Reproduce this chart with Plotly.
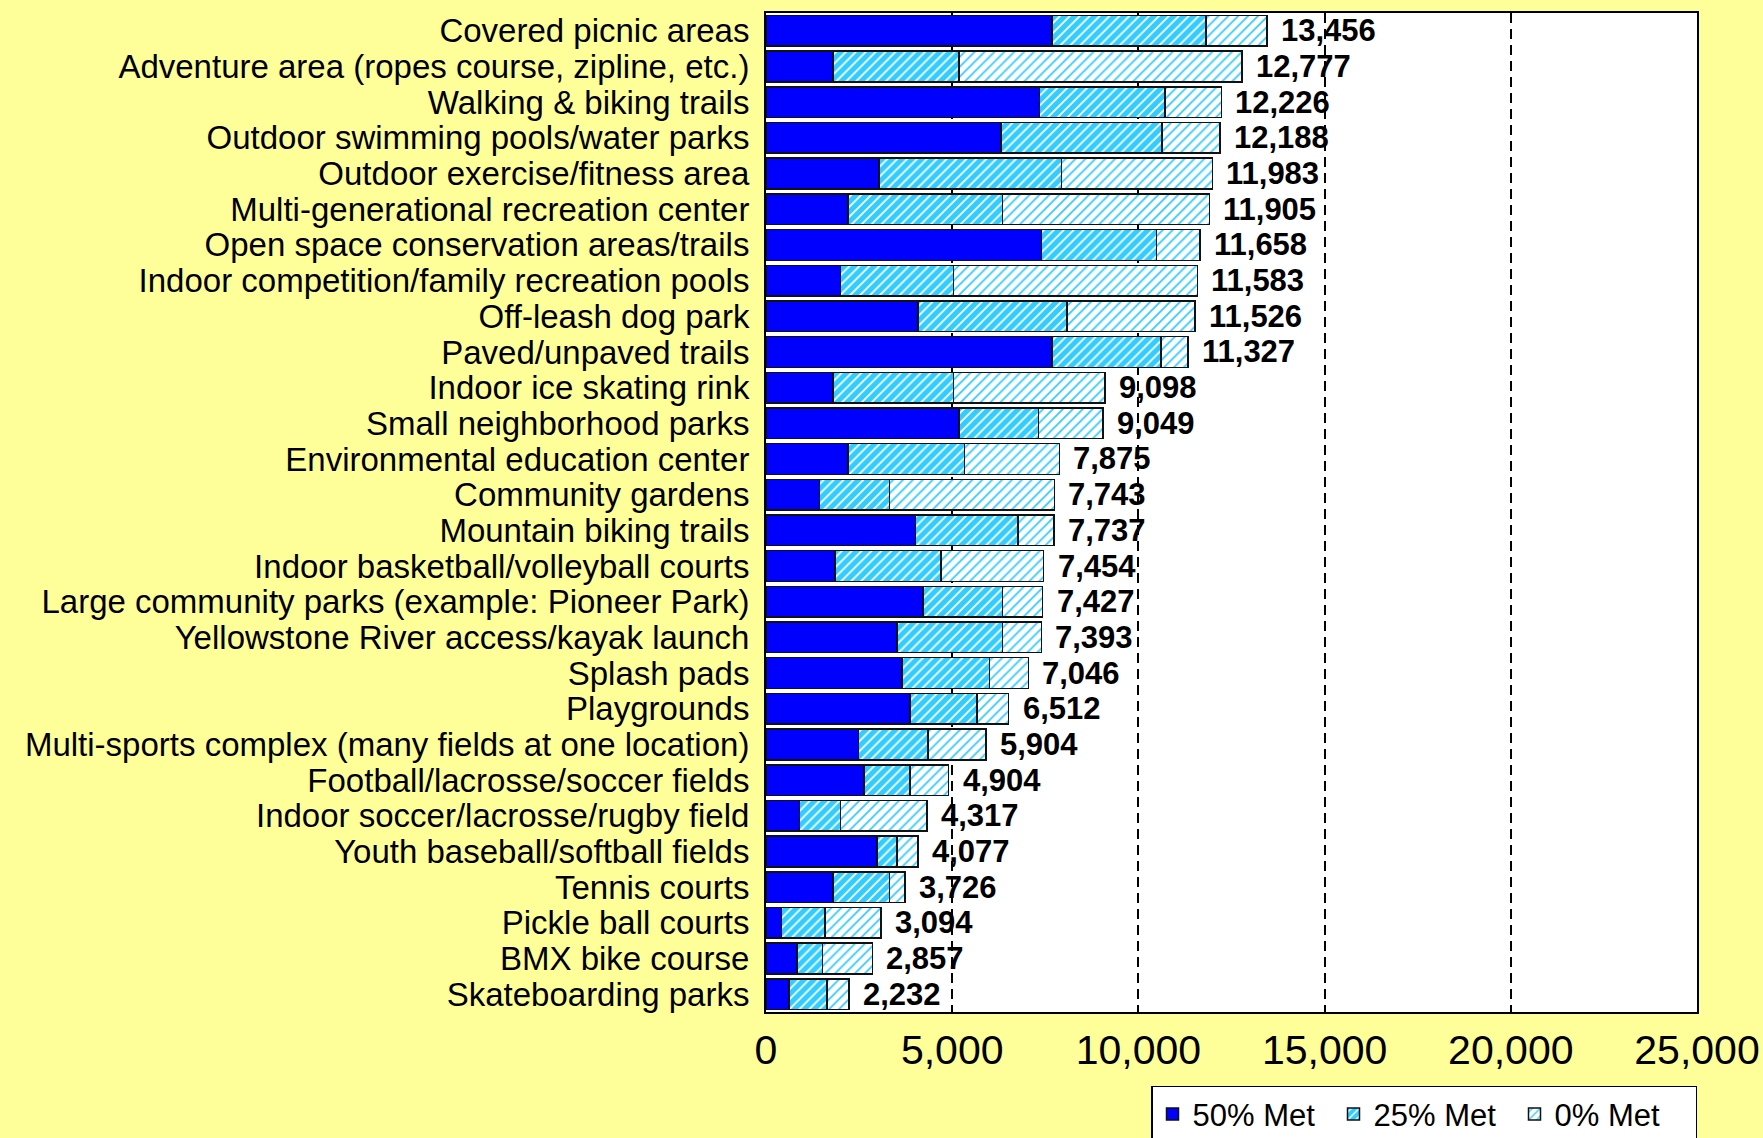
import plotly.graph_objects as go

categories = [
    "Covered picnic areas",
    "Adventure area (ropes course, zipline, etc.)",
    "Walking & biking trails",
    "Outdoor swimming pools/water parks",
    "Outdoor exercise/fitness area",
    "Multi-generational recreation center",
    "Open space conservation areas/trails",
    "Indoor competition/family recreation pools",
    "Off-leash dog park",
    "Paved/unpaved trails",
    "Indoor ice skating rink",
    "Small neighborhood parks",
    "Environmental education center",
    "Community gardens",
    "Mountain biking trails",
    "Indoor basketball/volleyball courts",
    "Large community parks (example: Pioneer Park)",
    "Yellowstone River access/kayak launch",
    "Splash pads",
    "Playgrounds",
    "Multi-sports complex (many fields at one location)",
    "Football/lacrosse/soccer fields",
    "Indoor soccer/lacrosse/rugby field",
    "Youth baseball/softball fields",
    "Tennis courts",
    "Pickle ball courts",
    "BMX bike course",
    "Skateboarding parks",
]

met50 = [7674, 1799, 7338, 6307, 3034, 2206, 7398, 2002, 4077, 7686, 1799, 5180, 2206, 1439,
         4017, 1847, 4221, 3513, 3657, 3861, 2482, 2638, 899, 2974, 1799, 420, 827, 624]
met25 = [4137, 3381, 3370, 4328, 4904, 4149, 3093, 3034, 4005, 2926, 3237, 2134, 3118, 1871,
         2746, 2854, 2134, 2842, 2350, 1811, 1871, 1223, 1103, 540, 1511, 1163, 695, 1019]
totals = [13456, 12777, 12226, 12188, 11983, 11905, 11658, 11583, 11526, 11327, 9098, 9049, 7875, 7743,
          7737, 7454, 7427, 7393, 7046, 6512, 5904, 4904, 4317, 4077, 3726, 3094, 2857, 2232]
met0 = [t - a - b for t, a, b in zip(totals, met50, met25)]

x_ticks = [0, 5000, 10000, 15000, 20000, 25000]
x_ticklabels = ["0", "5,000", "10,000", "15,000", "20,000", "25,000"]

FONT = "Liberation Sans, Arial, sans-serif"
BLUE = "#0000FF"
LIGHT = "#33CCFF"
BG = "#FFFF99"

fig = go.Figure()
fig.add_trace(go.Bar(
    y=categories, x=met50, orientation="h", name="50% Met",
    marker=dict(color=BLUE, line=dict(color="#111111", width=1.5)),
    hoverinfo="skip",
))
fig.add_trace(go.Bar(
    y=categories, x=met25, orientation="h", name="25% Met",
    marker=dict(color=LIGHT, line=dict(color="#111111", width=1.5),
                pattern=dict(shape="/", bgcolor=LIGHT, fgcolor="white", size=7, solidity=0.25,
                             fillmode="replace")),
    hoverinfo="skip",
))
fig.add_trace(go.Bar(
    y=categories, x=met0, orientation="h", name="0% Met",
    marker=dict(color="white", line=dict(color="#111111", width=1.5),
                pattern=dict(shape="/", bgcolor="white", fgcolor=LIGHT, size=7, solidity=0.25,
                             fillmode="replace")),
    hoverinfo="skip",
))

annotations = [
    dict(x=t, y=c, xref="x", yref="y", text=f"<b>{t:,}</b>", showarrow=False,
         xanchor="left", yanchor="middle", xshift=12,
         font=dict(family=FONT, size=31, color="black"))
    for c, t in zip(categories, totals)
]

fig.update_layout(
    width=1763, height=1138,
    barmode="stack", bargap=0.14,
    paper_bgcolor=BG, plot_bgcolor="white",
    margin=dict(l=766, r=66, t=13, b=126, autoexpand=False),
    font=dict(family=FONT, size=33, color="black"),
    showlegend=True,
    annotations=annotations,
    legend=dict(orientation="h", x=1, xanchor="right", y=-0.074, yanchor="top",
                bgcolor="white", bordercolor="black", borderwidth=1.5,
                font=dict(size=31), traceorder="normal", itemwidth=30, tracegroupgap=0,
                entrywidth=136, entrywidthmode="pixels"),
)
fig.update_xaxes(
    range=[0, 25000], tickmode="array", tickvals=x_ticks, ticktext=x_ticklabels,
    showgrid=True, gridcolor="black", griddash="10px,6px", gridwidth=1.5,
    showline=True, linecolor="black", linewidth=2, mirror=True,
    ticks="inside", ticklen=6, tickcolor="black", ticklabelstandoff=1,
    tickfont=dict(size=41), zeroline=False, automargin=False,
)
fig.update_yaxes(
    range=[len(categories) - 0.5, -0.5], tickmode="array", tickvals=categories, ticktext=categories,
    showline=True, linecolor="black", linewidth=2, mirror=True, automargin=False,
    ticks="", ticklabelstandoff=8, tickfont=dict(size=33),
)

fig.write_html(
    "out.html",
    config={"displayModeBar": False},
    post_script="document.body.style.margin='0';document.body.style.background='" + BG + "';",
)
